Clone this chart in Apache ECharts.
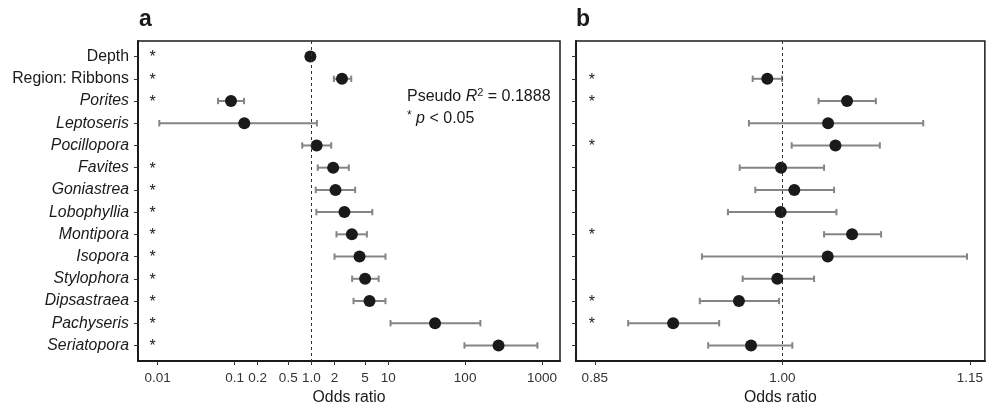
<!DOCTYPE html>
<html><head><meta charset="utf-8">
<script src="https://cdn.jsdelivr.net/npm/echarts@6/dist/echarts.min.js"></script>
<style>html,body{margin:0;padding:0;background:#fff}#c{width:986px;height:411px}</style>
</head><body><div id="c"></div>
<script>
// ---- data ----
const rows = ['Depth','Region: Ribbons','Porites','Leptoseris','Pocillopora','Favites','Goniastrea','Lobophyllia','Montipora','Isopora','Stylophora','Dipsastraea','Pachyseris','Seriatopora'];
const italicRow = [false,false,true,true,true,true,true,true,true,true,true,true,true,true];

const aOR = [0.97, 2.5, 0.09, 0.134, 1.17, 1.92, 2.06, 2.69, 3.36, 4.23, 5.0, 5.7, 40.6, 272];
const aLo = [0.96, 1.96, 0.061, 0.0105, 0.76, 1.21, 1.14, 1.16, 2.12, 2.0, 3.39, 3.53, 10.7, 98];
const aHi = [0.98, 3.3, 0.133, 1.18, 1.81, 3.07, 3.71, 6.2, 5.27, 9.2, 7.5, 9.2, 158, 872];
const aSig = [1,1,1,0,0,1,1,1,1,1,1,1,1,1];

const bOR = [null, 0.988, 1.0518, 1.0366, 1.0425, 0.999, 1.0096, 0.9987, 1.0558, 1.0363, 0.996, 0.9653, 0.9127, 0.975];
const bLo = [null, 0.9763, 1.029, 0.9733, 1.0075, 0.9659, 0.9784, 0.9565, 1.0334, 0.9357, 0.9683, 0.934, 0.8767, 0.9407];
const bHi = [null, 0.9998, 1.0748, 1.1127, 1.078, 1.0334, 1.0414, 1.0433, 1.079, 1.1477, 1.0254, 0.9974, 0.9495, 1.008];
const bSig = [0,1,1,0,1,0,0,0,1,0,0,1,1,0];

const aTicks = [0.01, 0.1, 0.2, 0.5, 1, 2, 5, 10, 100, 1000];
const aTickLabels = ['0.01','0.1','0.2','0.5','1.0','2','5','10','100','1000'];
const bTicks = [0.85, 1.00, 1.15];
const bTickLabels = ['0.85','1.00','1.15'];

const aRange = [0.00555, 1715];
const bRange = [0.835, 1.162];
const aStarX = 0.0086, bStarX = 0.8476;

// ---- chart ----
const FONT = '"Liberation Sans", Arial, Helvetica, sans-serif';
const L = Math.log10;
const chart = echarts.init(document.getElementById('c'), null, {renderer:'canvas'});

function nearestLabel(v, ticks, labels, tf){
  let best = 0, bd = Infinity;
  ticks.forEach((t,i)=>{ const d = Math.abs(tf(t)-v); if(d<bd){bd=d;best=i;} });
  return labels[best];
}

function errRender(params, api){
  const y = api.value(0), lo = api.value(1), hi = api.value(2);
  const p1 = api.coord([lo, y]), p2 = api.coord([hi, y]);
  const h = 3.2;
  const style = {stroke:'#858585', lineWidth:2};
  return {type:'group', children:[
    {type:'line', shape:{x1:p1[0],y1:p1[1],x2:p2[0],y2:p2[1]}, style},
    {type:'line', shape:{x1:p1[0],y1:p1[1]-h,x2:p1[0],y2:p1[1]+h}, style},
    {type:'line', shape:{x1:p2[0],y1:p2[1]-h,x2:p2[0],y2:p2[1]+h}, style}
  ]};
}
function starRender(params, api){
  const p = api.coord([api.value(0), api.value(1)]);
  return {type:'text', x:p[0], y:p[1]+1.5, style:{text:'*', fontFamily:FONT, fontSize:16,
    fill:'#1a1a1a', align:'center', verticalAlign:'middle'}};
}

const yIdx = rows.map((_,i)=>i);
function yAxisDef(gi, showLabels){
  return {
    type:'value', gridIndex:gi, inverse:true, min:-0.7, max:13.7,
    splitLine:{show:false},
    axisLine:{show:true, onZero:false, lineStyle:{color:'#1a1a1a', width:2}},
    axisTick:{show:true, customValues:yIdx, length:4, lineStyle:{color:'#333', width:1}},
    axisLabel:{show:showLabels, customValues:yIdx, margin:9, fontFamily:FONT, fontSize:15.8, color:'#1a1a1a',
      formatter:(v)=>{ const i = Math.round(v); return italicRow[i] ? '{it|'+rows[i]+'}' : rows[i]; },
      rich:{it:{fontStyle:'italic', fontFamily:FONT, fontSize:15.8, color:'#1a1a1a'}}}
  };
}
function xAxisDef(gi, range, ticks, labels, tf){
  return {
    type:'value', gridIndex:gi, min:tf(range[0]), max:tf(range[1]),
    splitLine:{show:false},
    axisLine:{show:true, onZero:false, lineStyle:{color:'#1a1a1a', width:2}},
    axisTick:{show:true, customValues:ticks.map(tf), length:4, lineStyle:{color:'#333', width:1}},
    axisLabel:{customValues:ticks.map(tf), margin:10, fontFamily:FONT, fontSize:13.5, color:'#333',
      formatter:(v)=>nearestLabel(v, ticks, labels, tf)},
    name:'Odds ratio', nameLocation:'middle', nameGap:29,
    nameTextStyle:{fontFamily:FONT, fontSize:15.8, color:'#1a1a1a'}
  };
}
const ident = (x)=>x;

const aErr = [], aPts = [], aStars = [];
rows.forEach((_,i)=>{
  aErr.push([i, L(aLo[i]), L(aHi[i])]);
  aPts.push([L(aOR[i]), i]);
  if(aSig[i]) aStars.push([L(aStarX), i]);
});
const bErr = [], bPts = [], bStars = [];
rows.forEach((_,i)=>{
  if(bOR[i] !== null){ bErr.push([i, bLo[i], bHi[i]]); bPts.push([bOR[i], i]); }
  if(bSig[i]) bStars.push([bStarX, i]);
});

function starSeries(xi, data){
  return {type:'custom', xAxisIndex:xi, yAxisIndex:xi, data, renderItem:starRender, silent:true, z:5,
    encode:{x:0, y:1}};
}
function refLine(xi, v){
  return {type:'line', xAxisIndex:xi, yAxisIndex:xi, data:[], silent:true,
    markLine:{symbol:'none', silent:true, label:{show:false},
      lineStyle:{type:[3,3], color:'#333', width:1},
      data:[{xAxis:v}]}};
}

chart.setOption({
  animation:false,
  backgroundColor:'#ffffff',
  grid:[
    {left:138, top:41, width:422, height:323, show:true, borderColor:'#1a1a1a', borderWidth:1.5, containLabel:false},
    {left:576, top:41, width:409, height:323, show:true, borderColor:'#1a1a1a', borderWidth:1.5, containLabel:false}
  ],
  xAxis:[ xAxisDef(0, aRange, aTicks, aTickLabels, L), xAxisDef(1, bRange, bTicks, bTickLabels, ident) ],
  yAxis:[ yAxisDef(0, true), yAxisDef(1, false) ],
  series:[
    refLine(0, 0),
    refLine(1, 1),
    {type:'custom', xAxisIndex:0, yAxisIndex:0, renderItem:errRender, data:aErr, encode:{x:[1,2], y:0}, z:3},
    {type:'custom', xAxisIndex:1, yAxisIndex:1, renderItem:errRender, data:bErr, encode:{x:[1,2], y:0}, z:3},
    {type:'scatter', xAxisIndex:0, yAxisIndex:0, data:aPts, symbolSize:12, itemStyle:{color:'#1a1a1a', opacity:1}, z:4},
    {type:'scatter', xAxisIndex:1, yAxisIndex:1, data:bPts, symbolSize:12, itemStyle:{color:'#1a1a1a', opacity:1}, z:4},
    starSeries(0, aStars),
    starSeries(1, bStars)
  ],
  graphic:[
    {type:'text', left:139, top:8, style:{text:'a', fontFamily:FONT, fontWeight:'bold', fontSize:23, fill:'#1a1a1a'}},
    {type:'text', left:576, top:8, style:{text:'b', fontFamily:FONT, fontWeight:'bold', fontSize:23, fill:'#1a1a1a'}},
    {type:'text', left:407, top:87, style:{
      text:'Pseudo {i|R}{s|2} = 0.1888', fontFamily:FONT, fontSize:16, fill:'#1a1a1a',
      rich:{i:{fontStyle:'italic', fontFamily:FONT, fontSize:16, fill:'#1a1a1a'},
            s:{fontFamily:FONT, fontSize:11, fill:'#1a1a1a', verticalAlign:'top', padding:[0,0,8,0]}}}},
    {type:'text', left:407, top:110, style:{
      text:'{s|*} {i|p} < 0.05', fontFamily:FONT, fontSize:16, fill:'#1a1a1a',
      rich:{i:{fontStyle:'italic', fontFamily:FONT, fontSize:16, fill:'#1a1a1a'},
            s:{fontFamily:FONT, fontSize:12, fill:'#1a1a1a', padding:[0,0,6,0]}}}}
  ]
});
</script></body></html>
